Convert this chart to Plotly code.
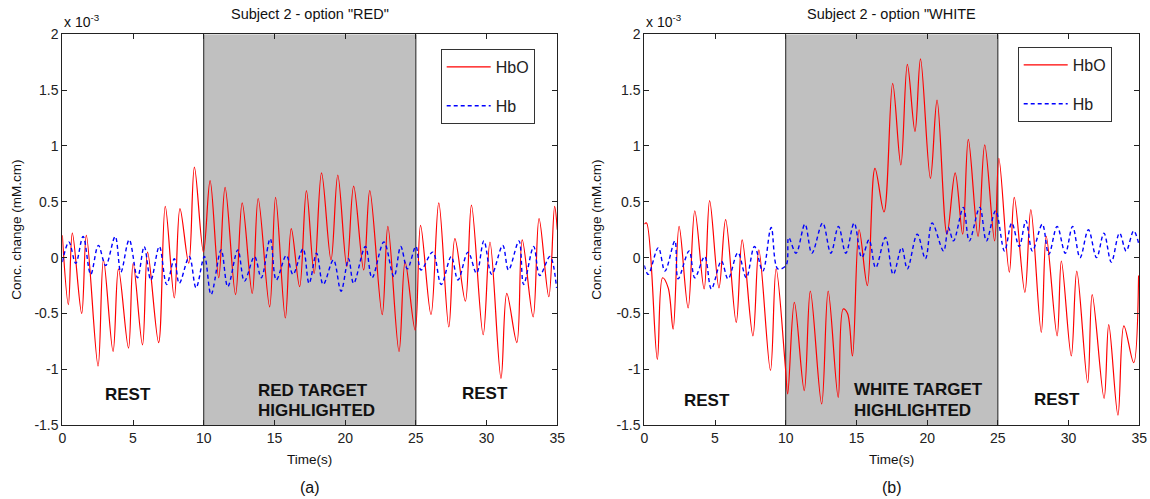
import plotly.graph_objects as go

# ---------------- data (concentration change, units of 1e-3 mM.cm) ----------------
LEFT_HBO_T = [0.0, 0.43, 0.71, 1.37, 1.70, 2.53, 2.91, 3.59, 3.97, 4.68, 5.01, 5.67, 6.03, 6.81, 7.28,
              7.92, 8.32, 8.94, 9.34, 9.98, 10.45, 11.06, 11.51, 12.25, 12.72, 13.43, 13.85, 14.66,
              15.08, 15.77, 16.19, 16.78, 17.26, 17.81, 18.33, 19.0, 19.48, 20.12, 20.6, 21.31, 21.74,
              22.62, 23.02, 23.81, 24.24, 24.95, 25.33, 26.07, 26.62, 27.33, 27.76, 28.5, 28.93, 29.76,
              30.24, 31.02, 31.43, 32.14, 32.52, 33.29, 33.71, 34.4, 34.81, 35.0]
LEFT_HBO_V = [0.2, -0.42, 0.22, -0.5, 0.2, -0.97, -0.02, -0.84, -0.1, -0.81, -0.05, -0.78, 0.05, -0.76, 0.46,
              -0.36, 0.44, -0.05, 0.81, 0.05, 0.69, -0.18, 0.63, -0.33, 0.49, -0.32, 0.53, -0.44,
              0.54, -0.54, 0.26, -0.26, 0.6, -0.14, 0.76, -0.02, 0.74, -0.08, 0.64, -0.11, 0.6,
              -0.51, 0.28, -0.84, -0.04, -0.65, 0.29, -0.51, 0.49, -0.62, 0.17, -0.39, 0.47, -0.69,
              0.14, -1.08, -0.32, -0.76, 0.16, -0.53, 0.35, -0.35, 0.46, 0.25]

LEFT_HB_T = [0.0, 0.47, 0.95, 1.47, 2.01, 2.55, 3.07, 3.74, 4.14, 4.73, 5.32, 5.79, 6.26, 6.86, 7.38,
             7.92, 8.27, 8.98, 9.46, 10.05, 10.52, 11.23, 11.7, 12.41, 12.88, 13.59, 14.07, 14.7,
             15.13, 15.84, 16.31, 17.02, 17.45, 17.98, 18.45, 19.17, 19.71, 20.24, 20.6, 21.43, 21.9,
             22.74, 23.45, 23.93, 24.4, 25.0, 25.36, 26.19, 26.79, 27.5, 27.98, 28.69, 29.29, 29.81,
             30.36, 31.14, 31.55, 32.29, 32.62, 33.33, 33.76, 34.48, 34.95]
LEFT_HB_V = [-0.04, 0.14, -0.05, 0.19, -0.15, 0.11, -0.07, 0.19, -0.13, 0.16, -0.18, 0.1, -0.2, 0.1, -0.24,
             -0.01, -0.23, 0.01, -0.27, 0.01, -0.33, 0.07, -0.26, 0.07, -0.21, 0.01, -0.18, 0.17,
             -0.2, 0.02, -0.15, 0.08, -0.23, 0.04, -0.24, -0.02, -0.3, -0.01, -0.23, 0.1, -0.18,
             0.14, -0.17, 0.1, -0.1, 0.1, -0.11, 0.05, -0.24, 0.01, -0.2, 0.05, -0.14, 0.15,
             -0.15, 0.11, -0.11, 0.15, -0.24, 0.1, -0.16, 0.01, -0.27]

RIGHT_HBO_T = [0.0, 0.16, 0.92, 1.29, 1.69, 2.04, 2.46, 3.10, 3.57, 4.23, 4.62, 5.28, 5.75, 6.50, 6.92,
               7.68, 8.10, 8.92, 9.32, 9.97, 10.14, 10.61, 11.31, 11.74, 12.54, 13.0, 13.71, 14.06,
               14.37, 14.72, 15.19, 15.77, 16.31, 16.95, 17.56, 18.14, 18.6, 19.14, 19.53, 20.23, 20.7,
               21.4, 21.98, 22.51, 22.91, 23.6, 24.07, 24.77, 25.07, 25.81, 26.16, 26.91, 27.33, 28.07,
               28.42, 29.19, 29.49, 30.19, 30.58, 31.35, 31.67, 32.51, 32.84, 33.49, 33.91, 34.6, 34.95]
RIGHT_HBO_V = [0.3, 0.31, -0.91, -0.18, -0.27, -0.64, 0.28, -0.45, 0.42, -0.28, 0.51, -0.27, 0.34, -0.58, 0.16,
               -0.7, 0.07, -1.01, -0.1, -0.97, -1.22, -0.4, -1.19, -0.3, -1.31, -0.3, -1.25, -0.46,
               -0.5, -0.88, 0.25, -0.25, 0.8, 0.41, 1.56, 0.83, 1.73, 1.13, 1.78, 0.71, 1.41,
               0.21, 0.76, 0.21, 1.06, 0.19, 1.01, 0.15, 0.89, -0.13, 0.54, -0.31, 0.43, -0.67,
               0.19, -0.7, -0.03, -0.88, -0.12, -1.12, -0.33, -1.26, -0.6, -1.41, -0.61, -0.94, -0.16]

RIGHT_HB_T = [0.0, 0.28, 0.99, 1.46, 2.16, 2.39, 3.17, 3.57, 4.27, 4.74, 5.45, 5.92, 6.62, 7.21, 7.79,
              8.38, 8.97, 9.44, 10.02, 10.21, 10.73, 11.36, 11.85, 12.61, 13.19, 13.73, 14.25, 14.84,
              15.38, 15.89, 16.36, 17.05, 17.6, 18.2, 18.6, 19.3, 19.88, 20.35, 21.16, 21.5, 21.86,
              22.56, 22.98, 23.72, 24.19, 24.84, 25.47, 25.98, 26.51, 26.98, 27.44, 28.14, 28.6, 29.19,
              29.77, 30.28, 30.81, 31.4, 31.98, 32.5, 33.02, 33.6, 34.07, 34.6, 34.95]
RIGHT_HB_V = [-0.07, -0.15, 0.09, -0.12, 0.15, -0.19, 0.06, -0.18, 0.01, -0.28, -0.03, -0.19, 0.045, -0.18, 0.1,
              -0.12, 0.27, -0.1, -0.07, 0.18, 0.04, 0.3, 0.04, 0.31, 0.04, 0.28, 0.04, 0.31,
              0.0, 0.16, -0.09, 0.18, -0.15, 0.09, -0.1, 0.21, -0.01, 0.31, 0.06, 0.27, 0.15,
              0.45, 0.15, 0.45, 0.15, 0.42, 0.06, 0.31, 0.1, 0.33, 0.06, 0.3, 0.03, 0.28,
              0.04, 0.28, 0.0, 0.25, 0.0, 0.22, -0.04, 0.22, 0.06, 0.24, 0.13]

X_TICKS = [0, 5, 10, 15, 20, 25, 30, 35]
Y_TICKS = [-1.5, -1, -0.5, 0, 0.5, 1, 1.5, 2]
Y_TICK_LABELS = ["-1.5", "-1", "-0.5", "0", "0.5", "1", "1.5", "2"]
TASK_START, TASK_END = 10, 25

# ---------------- layout helpers ----------------
W, H = 1150, 499
FONT = "Liberation Sans, Arial, sans-serif"


def px(x):
    return x / W


def py(y):
    return 1 - y / H


Y_DOM = [py(425.2), py(34.3)]
LEFT_DOM = [px(62.3), px(557.3)]
RIGHT_DOM = [px(644.3), px(1139.3)]

fig = go.Figure()

SPL = dict(shape="spline", smoothing=1.0)

fig.add_trace(go.Scatter(x=LEFT_HBO_T, y=LEFT_HBO_V, mode="lines", name="HbO",
                         line=dict(color="#ff0000", width=1.2, **SPL),
                         xaxis="x", yaxis="y", legend="legend", legendgroup="a1"))
fig.add_trace(go.Scatter(x=LEFT_HB_T, y=LEFT_HB_V, mode="lines", name="Hb",
                         line=dict(color="#0000ff", width=1.4, dash="4px,3px", **SPL),
                         xaxis="x", yaxis="y", legend="legend", legendgroup="a2"))
fig.add_trace(go.Scatter(x=RIGHT_HBO_T, y=RIGHT_HBO_V, mode="lines", name="HbO",
                         line=dict(color="#ff0000", width=1.2, **SPL),
                         xaxis="x2", yaxis="y2", legend="legend2", legendgroup="b1"))
fig.add_trace(go.Scatter(x=RIGHT_HB_T, y=RIGHT_HB_V, mode="lines", name="Hb",
                         line=dict(color="#0000ff", width=1.4, dash="4px,3px", **SPL),
                         xaxis="x2", yaxis="y2", legend="legend2", legendgroup="b2"))

xax = dict(range=[0, 35], tickvals=X_TICKS, ticks="inside", ticklen=5, tickcolor="#222",
           showline=True, linecolor="#222", linewidth=1, mirror="ticks", automargin=False,
           showgrid=False, zeroline=False, tickfont=dict(family=FONT, size=14, color="#222"))
yax = dict(range=[-1.5, 2], tickvals=Y_TICKS, ticktext=Y_TICK_LABELS, ticks="inside", ticklen=5,
           tickcolor="#222", showline=True, linecolor="#222", linewidth=1, mirror="ticks", automargin=False,
           showgrid=False, zeroline=False, tickfont=dict(family=FONT, size=14, color="#222"))

legend_common = dict(bgcolor="white", bordercolor="#333", borderwidth=1,
                     font=dict(family=FONT, size=16, color="#222"),
                     xanchor="left", yanchor="top", tracegroupgap=15, itemwidth=44,
                     entrywidth=100, entrywidthmode="pixels",
                     traceorder="grouped")

fig.update_layout(
    width=W, height=H, autosize=False,
    margin=dict(l=0, r=0, t=0, b=0, pad=0),
    paper_bgcolor="white", plot_bgcolor="white",
    xaxis=dict(domain=LEFT_DOM, anchor="y", **xax),
    yaxis=dict(domain=Y_DOM, anchor="x", **yax),
    xaxis2=dict(domain=RIGHT_DOM, anchor="y2", **xax),
    yaxis2=dict(domain=Y_DOM, anchor="x2", **yax),
    legend=dict(x=px(440.7), y=py(49), **legend_common),
    legend2=dict(x=px(1017.7), y=py(47), **legend_common),
    showlegend=True,
)

shapes = []
for xr, yr in (("x", "y"), ("x2", "y2")):
    shapes.append(dict(type="rect", xref=xr, yref=yr, x0=TASK_START, x1=TASK_END, y0=-1.5, y1=2,
                       fillcolor="#c0c0c0", line=dict(width=0), layer="below"))
    for xv in (TASK_START, TASK_END):
        shapes.append(dict(type="line", xref=xr, yref=yr, x0=xv, x1=xv, y0=-1.5, y1=2,
                           line=dict(color="#222", width=1), layer="below"))
fig.update_layout(shapes=shapes)

ann = []


def text(x, y, s, size, bold=False, xanchor="center", angle=0):
    ann.append(dict(x=x, y=y, xref="paper", yref="paper", text=("<b>%s</b>" % s) if bold else s,
                    showarrow=False, xanchor=xanchor, yanchor="middle", textangle=angle,
                    font=dict(family=FONT, size=size, color="#111")))


lc = (LEFT_DOM[0] + LEFT_DOM[1]) / 2
rc = (RIGHT_DOM[0] + RIGHT_DOM[1]) / 2
# titles
text(lc, py(14), 'Subject 2 - option "RED"', 14.5)
text(rc, py(14), 'Subject 2 - option "WHITE', 14.5)
# exponent labels
text(px(62), py(21), "x 10<sup>-3</sup>", 14, xanchor="left")
text(px(644), py(21), "x 10<sup>-3</sup>", 14, xanchor="left")
# y titles
text(px(17), (Y_DOM[0] + Y_DOM[1]) / 2, "Conc. change (mM.cm)", 13.5, angle=-90)
text(px(597), (Y_DOM[0] + Y_DOM[1]) / 2, "Conc. change (mM.cm)", 13.5, angle=-90)
# x titles
text(lc, py(459), "Time(s)", 13.5)
text(rc, py(459), "Time(s)", 13.5)
# panel letters
text(lc, py(487), "(a)", 16)
text(rc, py(487), "(b)", 16)
# phase labels
text(px(127.5), py(394), "REST", 17, bold=True)
text(px(485), py(393), "REST", 17, bold=True)
text(px(256), py(390), "RED TARGET", 17, bold=True, xanchor="left")
text(px(256), py(410), "HIGHLIGHTED", 17, bold=True, xanchor="left")
text(px(707), py(400), "REST", 17, bold=True)
text(px(1057), py(399), "REST", 17, bold=True)
text(px(852), py(389), "WHITE TARGET", 17, bold=True, xanchor="left")
text(px(852), py(410), "HIGHLIGHTED", 17, bold=True, xanchor="left")
fig.update_layout(annotations=ann)

fig.write_html(
    "out.html",
    config={"displayModeBar": False},
    post_script="document.body.style.margin='0';document.body.style.overflow='hidden';",
)
